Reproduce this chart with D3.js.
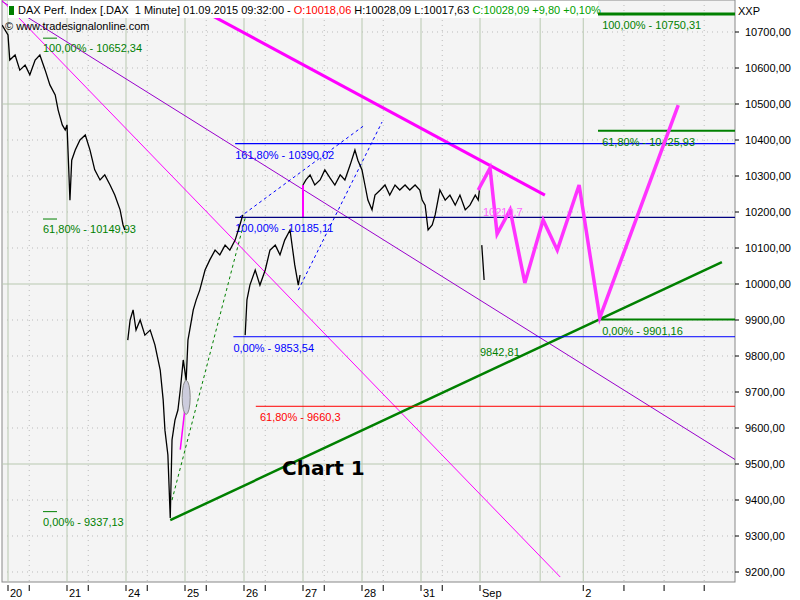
<!DOCTYPE html><html><head><meta charset="utf-8">
<script src="https://cdn.jsdelivr.net/npm/d3@7"></script>
<style>body{margin:0;background:#fff}text{font-family:"Liberation Sans",Arial,sans-serif;font-size:11px}</style>
</head><body><svg id="c" width="800" height="600"></svg><script>
const dayLabels=[[0,"20"],[1,"21"],[2,"24"],[3,"25"],[4,"26"],[5,"27"],[6,"28"],[7,"31"],[8,"Sep"],[9.75,"2"]];
const dayLines=[0,1,2,3,4,5,6,7,8,9.02,9.75];
const minorTicks=[0.36,1.36,2.36,3.36,4.36,5.36,6.36,7.36,10.44,11.12,11.8];
const priceTicks=[9200,9300,9400,9500,9600,9700,9800,9900,10000,10100,10200,10300,10400,10500,10600,10700];
const price=[[-0.1,10719],[0,10692],[0.03,10622],[0.12,10636],[0.2,10594],[0.29,10608],[0.37,10581],[0.46,10622],[0.54,10636],[0.63,10594],[0.71,10553],[0.8,10525],[0.85,10483],[0.92,10442],[0.97,10428],[1.0,10442],[1.05,10233],[1.08,10344],[1.14,10372],[1.22,10400],[1.31,10414],[1.39,10372],[1.47,10317],[1.56,10289],[1.64,10303],[1.73,10275],[1.81,10247],[1.9,10206],[1.95,10164],[1.98,10150],null,
[2.03,9844],[2.07,9900],[2.12,9928],[2.17,9872],[2.24,9900],[2.32,9858],[2.41,9872],[2.49,9831],[2.58,9761],[2.63,9678],[2.66,9594],[2.71,9525],[2.75,9350],[2.78,9567],[2.83,9622],[2.88,9650],[2.92,9706],[2.97,9789],[3.02,9733],[3.05,9844],[3.08,9872],[3.14,9928],[3.19,9956],[3.25,9983],[3.34,10039],[3.42,10067],[3.51,10094],[3.59,10081],[3.68,10108],[3.76,10094],[3.85,10122],[3.93,10164],[3.98,10192],null,
[4.02,9858],[4.05,9956],[4.1,9997],[4.19,10039],[4.27,9997],[4.36,10039],[4.44,10094],[4.53,10108],[4.61,10081],[4.69,10122],[4.78,10150],[4.86,10053],[4.92,9997],[4.95,10025],null,
[5.0,10275],[5.05,10289],[5.12,10303],[5.2,10275],[5.29,10289],[5.37,10317],[5.46,10294],[5.54,10275],[5.63,10303],[5.71,10289],[5.8,10331],[5.88,10372],[5.93,10344],[6.0,10317],[6.05,10275],[6.1,10233],[6.17,10206],[6.22,10247],[6.31,10261],[6.39,10275],[6.47,10247],[6.56,10275],[6.64,10261],[6.73,10275],[6.81,10261],[6.9,10275],[6.98,10261],[7.02,10233],[7.07,10219],[7.12,10150],[7.19,10164],[7.24,10192],[7.32,10261],[7.41,10233],[7.49,10247],[7.58,10219],[7.66,10247],[7.75,10206],[7.83,10219],[7.92,10247],[7.97,10233],[8.0,10275],null,
[8.03,10108],[8.05,10060],[8.07,10011]];
const zigzag=[[7.97,10261],[8.17,10322],[8.29,10139],[8.51,10206],[8.76,10003],[9.07,10178],[9.31,10094],[9.68,10275],[10.03,9906],[11.36,10497]];
const trendLines=[
 {p:[[3.34,10756],[9.1,10247]],c:"#ff00ff",w:3},
 {p:[[-0.14,10789],[13.42,9400]],c:"#9900cc",w:1},
 {p:[[-0.14,10794],[9.36,9186]],c:"#ff00ff",w:1},
 {p:[[2.75,9344],[12.1,10061]],c:"#008000",w:2.5},
 {p:[[2.78,9400],[4.02,10183]],c:"#008000",w:1,d:"3,3"},
 {p:[[4.92,9983],[6.34,10450]],c:"#0000ff",w:1,d:"3,3"},
 {p:[[3.93,10186],[6.05,10442]],c:"#0000ff",w:1,d:"3,3"},
 {p:[[5.0,10185],[5.0,10275]],c:"#ff00ff",w:2},
 {p:[[2.92,9540],[3.03,9700]],c:"#ff00ff",w:1.5}];
const levels=[
 {v:10390.02,t0:3.85,c:"#0000ff",w:1.2,lab:"161,80% - 10390,02",lt:3.85,lc:"#0000ff"},
 {v:10185.11,t0:3.85,c:"#000080",w:1.2,lab:"100,00% - 10185,11",lt:3.85,lc:"#0000ff"},
 {v:9853.54,t0:3.82,c:"#0000ff",w:1,lab:"0,00% - 9853,54",lt:3.82,lc:"#0000ff"},
 {v:9660.3,t0:4.2,c:"#ff0000",w:1,lab:"61,80% - 9660,3",lt:4.27,lc:"#ff0000"},
 {v:9901.16,t0:10.0,c:"#008000",w:2,lab:"0,00% - 9901,16",lt:10.07,lc:"#008000"},
 {v:10425.93,t0:10.0,c:"#008000",w:2,lab:"61,80% - 10425,93",lt:10.07,lc:"#008000"},
 {v:10750.31,t0:10.0,c:"#008000",w:3,lab:"100,00% - 10750,31",lt:10.07,lc:"#008000"}];
const fibLeft=[[10652.34,"100,00% - 10652,34"],[10149.93,"61,80% - 10149,93"],[9337.13,"0,00% - 9337,13"]];

const svg=d3.select("#c");
const L=2,R=735,T=0,B=582;
const x=d3.scaleLinear().domain([0,1]).range([8,67]);
const y=d3.scaleLinear().domain([9200,10700]).range([572,32]);
svg.append("rect").attr("width",800).attr("height",600).attr("fill","#fff");
svg.append("rect").attr("x",L).attr("y",T).attr("width",R-L).attr("height",B-T).attr("fill","#f4f4f4").attr("stroke","#888");
const g=svg.append("g");
svg.append("clipPath").attr("id","cp").append("rect").attr("x",L).attr("y",T).attr("width",R-L).attr("height",B-T);
g.attr("clip-path","url(#cp)");
priceTicks.forEach(v=>g.append("line").attr("x1",L).attr("x2",R).attr("y1",y(v)).attr("y2",y(v))
  .attr("stroke",v%500===0?"#b8c8b0":"#bbb").attr("stroke-dasharray",v%500===0?null:"1,4"));
dayLines.forEach(t=>g.append("line").attr("x1",x(t)).attr("x2",x(t)).attr("y1",T).attr("y2",B).attr("stroke","#b8c8b0"));
minorTicks.forEach(t=>g.append("line").attr("x1",x(t)).attr("x2",x(t)).attr("y1",T).attr("y2",B).attr("stroke","#bbb").attr("stroke-dasharray","1,4"));
const line=d3.line().defined(d=>d).x(d=>x(d[0])).y(d=>y(d[1]));
trendLines.forEach(t=>g.append("path").attr("d",line(t.p)).attr("fill","none").attr("stroke",t.c).attr("stroke-width",t.w).attr("stroke-dasharray",t.d||null));
// header box (behind levels on the right)
svg.append("rect").attr("x",8).attr("y",1).attr("width",590).attr("height",17).attr("fill","#fff");
svg.append("rect").attr("x",9).attr("y",6).attr("width",5).attr("height",9).attr("fill","#008000");
const hd=svg.append("text").attr("x",18).attr("y",14);
[["DAX Perf. Index [.DAX  1 Minute] 01.09.2015 09:32:00 - ","#000"],["O:10018,06 ","#ff0000"],["H:10028,09 L:10017,63 ","#000"],["C:10028,09 +9,80 +0,10%","#00a000"]]
 .forEach(([s,c])=>hd.append("tspan").attr("fill",c).style("white-space","pre").text(s));
svg.append("text").attr("x",5).attr("y",30).text("© www.tradesignalonline.com");
const g2=svg.append("g").attr("clip-path","url(#cp)");
levels.forEach(l=>{g2.append("line").attr("x1",x(l.t0)).attr("x2",R).attr("y1",y(l.v)).attr("y2",y(l.v)).attr("stroke",l.c).attr("stroke-width",l.w);
 g2.append("text").attr("x",x(l.lt)).attr("y",y(l.v)+15).attr("fill",l.lc).text(l.lab);});
fibLeft.forEach(([v,lab])=>{g2.append("line").attr("x1",43).attr("x2",57).attr("y1",y(v)-11).attr("y2",y(v)-11).attr("stroke","#008000");
 g2.append("text").attr("x",43).attr("y",y(v)+3).attr("fill","#008000").text(lab);});
g2.append("text").attr("x",x(8.0)).attr("y",y(9842.81)+15).attr("fill","#008000").text("9842,81");
g2.append("ellipse").attr("cx",x(3.02)).attr("cy",y(9685)).attr("rx",4).attr("ry",17).attr("fill","#ccd").attr("stroke","#888");
g2.append("path").attr("d",line(price)).attr("fill","none").attr("stroke","#000").attr("stroke-width",1.3);
g2.append("path").attr("d",line(zigzag)).attr("fill","none").attr("stroke","#ff33ff").attr("stroke-width",3.5);
g2.append("text").attr("x",x(8.05)).attr("y",y(10185)-1).attr("fill","#ff66ff").text("10210,7");
g2.append("text").attr("x",282).attr("y",475).style("font-size","20px").style("font-weight","bold").attr("fill","#000").style("font-family","'DejaVu Sans'").text("Chart 1");
priceTicks.forEach(v=>{svg.append("line").attr("x1",R).attr("x2",R+4).attr("y1",y(v)).attr("y2",y(v)).attr("stroke","#000");
 svg.append("text").attr("x",R+10).attr("y",y(v)+4).text(d3.format(".2f")(v).replace(".",","));});
svg.append("text").attr("x",R+3).attr("y",15).text("XXP");
dayLabels.forEach(([t,s])=>{svg.append("line").attr("x1",x(t)).attr("x2",x(t)).attr("y1",B+3).attr("y2",B+9).attr("stroke","#000");
 svg.append("text").attr("x",x(t)+2).attr("y",B+15).text(s);});
minorTicks.forEach(t=>svg.append("line").attr("x1",x(t)).attr("x2",x(t)).attr("y1",B+3).attr("y2",B+9).attr("stroke","#000"));
</script></body></html>
